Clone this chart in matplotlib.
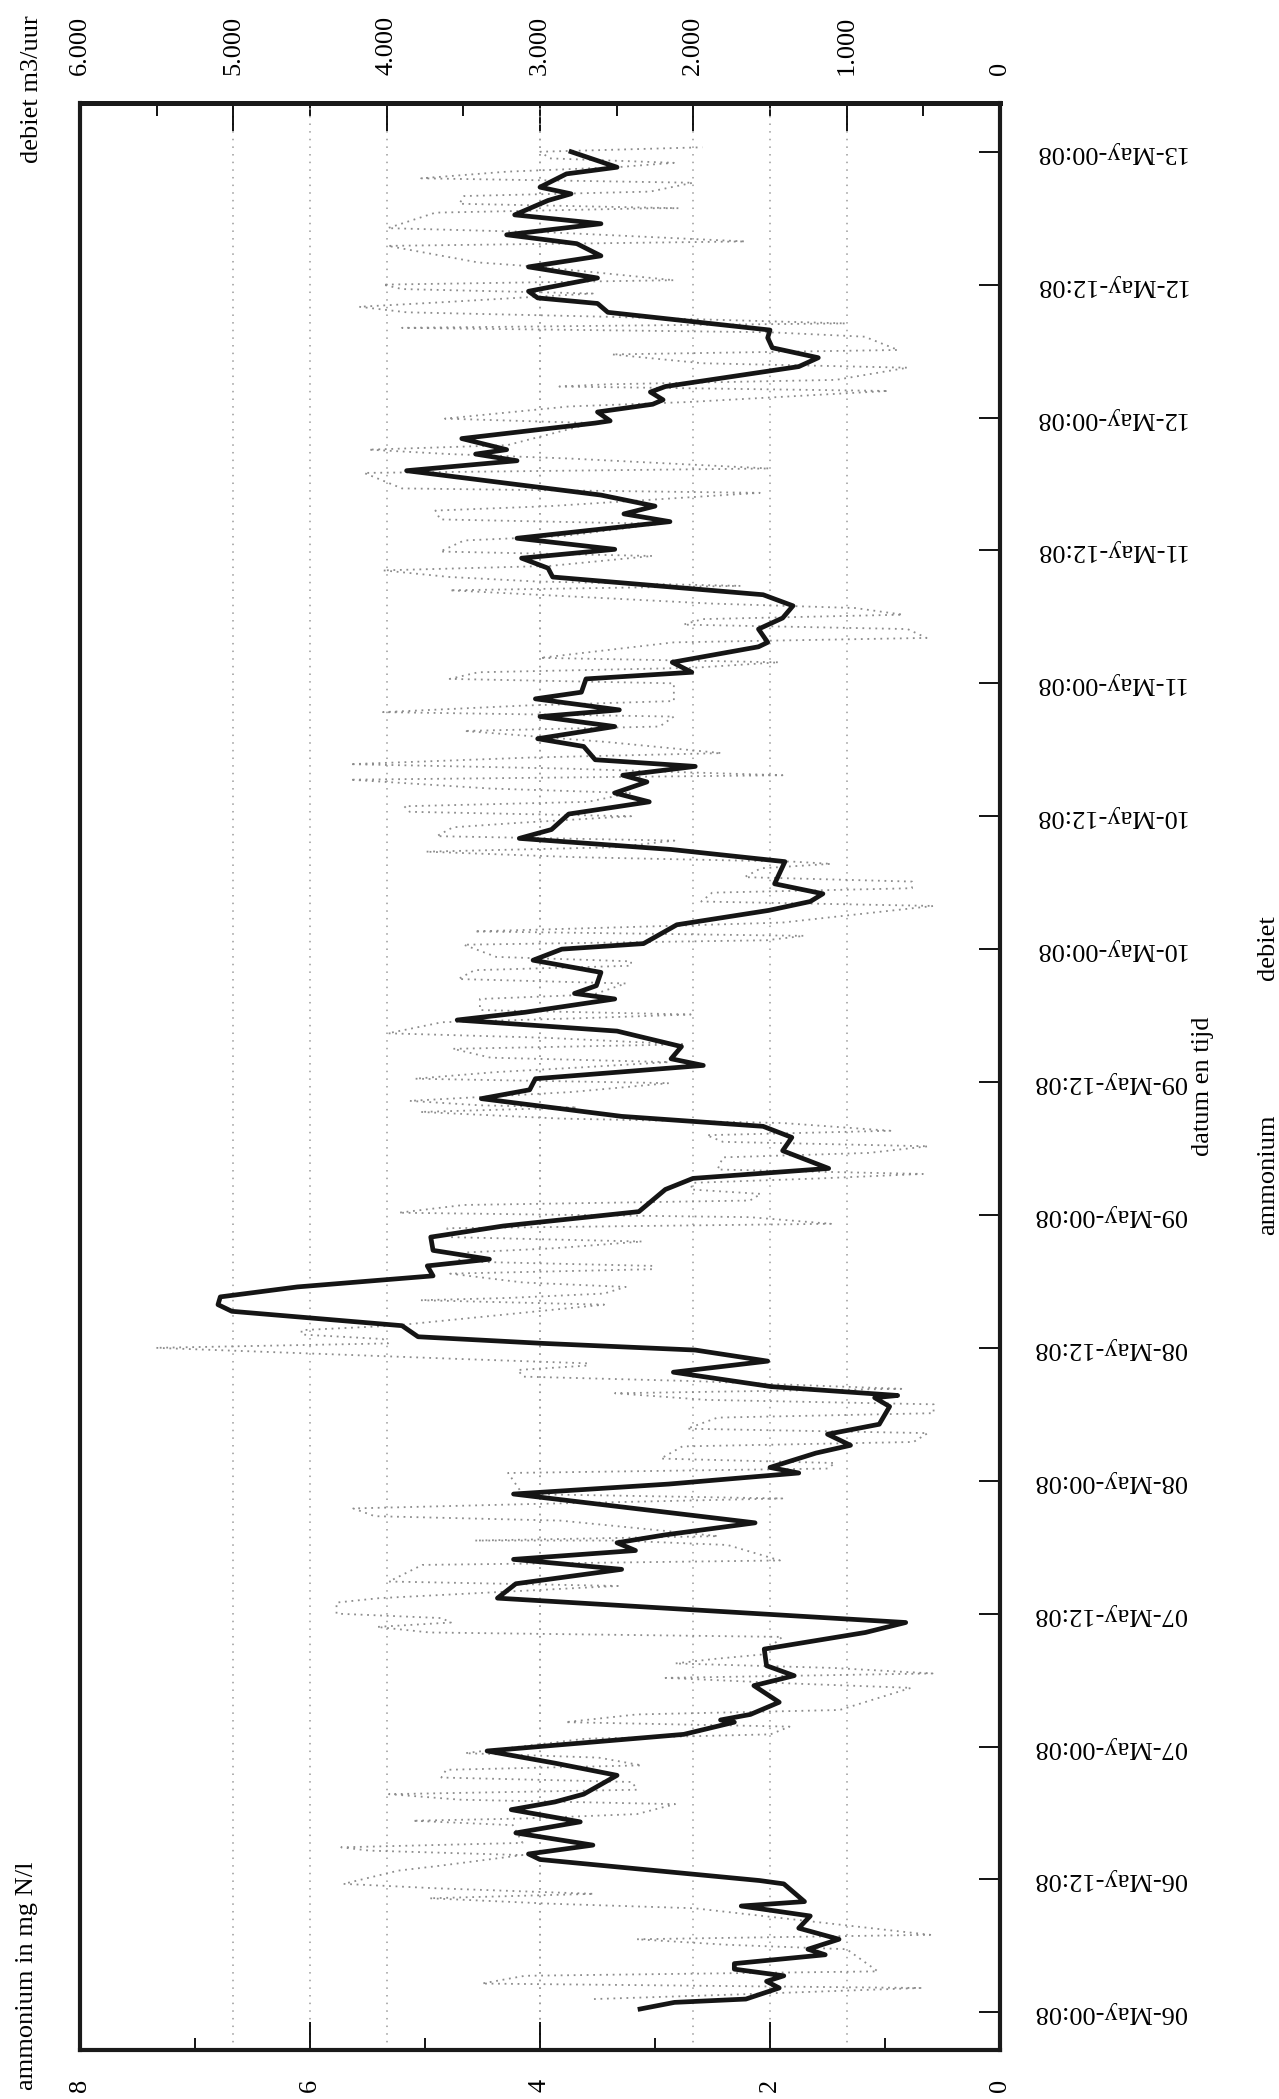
import matplotlib
matplotlib.use("Agg")
import matplotlib.pyplot as plt

plt.rcParams['font.family'] = ['Liberation Serif', 'DejaVu Serif']

# time axis: hours after 06-May 00:08
date_labels = ["06-May-00:08", "06-May-12:08", "07-May-00:08", "07-May-12:08",
               "08-May-00:08", "08-May-12:08", "09-May-00:08", "09-May-12:08",
               "10-May-00:08", "10-May-12:08", "11-May-00:08", "11-May-12:08",
               "12-May-00:08", "12-May-12:08", "13-May-00:08"]
date_hours = [0, 12, 24, 36, 48, 60, 72, 84, 96, 108, 120, 132, 144, 156, 168]

# ammonium (mg N/l), black line
amm_hours = [0.3, 0.9, 1.2, 2.2, 2.8, 3.3, 3.9, 4.4, 5.2, 5.7, 6.6, 7.6, 8.7, 9.6, 10.0,
             11.6, 11.9, 13.8, 14.3, 15.1, 16.2, 17.2, 18.3, 19.0, 19.7, 21.4, 22.5, 23.6,
             25.1, 26.2, 26.4, 26.9, 28.0, 29.5, 30.4, 31.3, 32.8, 34.3, 35.2, 37.4, 38.7,
             40.0, 40.9, 41.7, 42.4, 43.1, 44.2, 46.8, 47.7, 48.7, 49.2, 50.5, 51.2, 52.2,
             53.1, 54.7, 55.5, 55.7, 56.5, 57.8, 58.8, 59.8, 60.4, 61.0, 62.0, 63.3, 63.9,
             64.6, 65.5, 66.5, 67.4, 68.0, 68.8, 70.0, 71.0, 72.3, 74.3, 75.3, 76.2, 77.8,
             79.0, 80.0, 80.9, 82.5, 83.3, 84.3, 85.5, 86.1, 87.2, 88.6, 89.6, 90.3, 91.5,
             92.0, 92.7, 93.9, 95.0, 96.0, 96.5, 98.2, 99.5, 100.3, 101.0, 101.9, 103.9,
             105.0, 106.0, 106.8, 108.2, 109.3, 110.1, 111.1, 111.7, 112.5, 113.1, 114.3,
             115.0, 116.1, 117.0, 117.6, 118.6, 119.2, 120.4, 121.0, 121.9, 123.3, 123.7,
             124.9, 125.9, 127.0, 128.0, 129.6, 130.4, 131.3, 132.1, 133.1, 134.6, 135.3,
             136.0, 137.0, 139.2, 140.1, 140.7, 141.1, 142.1, 143.5, 143.7, 144.5, 145.2,
             145.6, 146.3, 146.8, 148.6, 149.4, 150.3, 151.2, 151.9, 153.5, 154.3, 154.8,
             155.4, 156.6, 157.6, 158.6, 159.7, 160.5, 161.5, 162.3, 163.6, 164.2, 164.8,
             166.0, 166.6, 168.0]
amm_values = [3.13, 2.83, 2.21, 1.92, 2.03, 1.88, 2.31, 2.31, 1.52, 1.67, 1.40, 1.75, 1.65,
              2.25, 1.70, 1.88, 2.09, 4.00, 4.10, 3.54, 4.21, 3.65, 4.25, 3.87, 3.62, 3.33,
              3.87, 4.46, 2.75, 2.31, 2.43, 2.17, 1.92, 2.14, 1.79, 2.03, 2.05, 1.17, 0.82,
              4.37, 4.21, 3.29, 4.23, 3.17, 3.33, 2.92, 2.13, 4.23, 2.88, 1.75, 2.00, 1.60,
              1.30, 1.50, 1.05, 0.96, 1.09, 0.89, 1.99, 2.84, 2.02, 2.65, 3.97, 5.06, 5.20,
              6.68, 6.80, 6.78, 6.11, 4.93, 4.98, 4.44, 4.93, 4.95, 4.32, 3.14, 2.91, 2.67,
              1.49, 1.89, 1.81, 2.06, 3.29, 4.51, 4.09, 4.04, 2.58, 2.86, 2.77, 3.33, 4.72,
              4.13, 3.35, 3.70, 3.51, 3.47, 4.06, 3.81, 3.10, 2.81, 2.01, 1.65, 1.54, 1.96,
              1.87, 2.86, 4.18, 3.90, 3.75, 3.05, 3.35, 3.07, 3.28, 2.65, 3.52, 3.62, 4.02,
              3.35, 4.00, 3.31, 4.04, 3.64, 3.60, 2.68, 2.85, 2.10, 2.02, 2.10, 1.89, 1.80,
              2.06, 3.89, 3.93, 4.16, 3.35, 4.20, 2.87, 3.27, 3.00, 3.47, 5.16, 4.20, 4.56,
              4.29, 4.68, 3.52, 3.39, 3.50, 3.02, 2.93, 3.04, 2.91, 1.75, 1.58, 1.98, 2.02,
              2.00, 3.41, 3.50, 4.02, 4.10, 3.50, 4.10, 3.47, 3.68, 4.29, 3.47, 4.22, 3.93,
              3.73, 4.00, 3.77, 3.33, 3.73]

# debiet (m3/uur), grey dotted line: per row the time, upper and lower value
grey_hours = [1.4, 2.4, 3.5, 5.9, 6.8, 9.6, 10.5, 11.4, 13.0, 14.4, 15.1, 17.1, 17.7, 19.0,
              19.9, 21.0, 22.1, 23.2, 24.9, 26.0, 27.1, 29.5, 30.4, 31.3, 32.1, 34.1, 35.0,
              35.8, 37.2, 38.7, 40.6, 42.4, 42.8, 44.6, 45.7, 46.6, 48.9, 49.8, 51.3, 52.5,
              53.9, 55.1, 56.1, 57.2, 58.2, 58.8, 60.2, 61.0, 61.8, 64.1, 64.7, 65.7, 66.9,
              67.6, 68.8, 69.8, 71.0, 72.0, 73.1, 74.1, 75.1, 75.9, 77.4, 78.4, 79.4, 80.5,
              81.5, 82.1, 82.9, 84.1, 85.1, 86.0, 87.2, 88.2, 89.6, 90.3, 91.7, 93.1, 94.3,
              95.1, 96.6, 97.4, 98.2, 100.1, 101.3, 102.3, 103.5, 104.1, 105.0, 106.0, 107.2,
              108.2, 109.1, 110.3, 111.5, 112.5, 113.5, 114.9, 115.9, 117.2, 118.2, 120.2,
              121.2, 122.1, 123.9, 125.1, 126.0, 127.0, 128.6, 129.4, 130.4, 131.7, 133.1,
              134.6, 135.8, 137.4, 139.2, 140.5, 141.3, 143.7, 145.2, 146.6, 147.2, 148.7,
              149.9, 151.5, 152.3, 153.3, 154.2, 155.4, 156.2, 157.8, 159.7, 160.9, 162.7,
              163.1, 164.2, 165.4, 166.4, 167.2, 168.2]
grey_high = [2648, 3379, 3099, 1777, 2368, 2912, 3721, 4281, 3923, 4110, 4296, 3830, 3114,
             3519, 3985, 3643, 3612, 3488, 2710, 2835, 2368, 1373, 2181, 2119, 1870, 3721,
             4063, 4327, 4327, 3985, 3768, 2492, 3425, 4078, 4218, 3114, 3208, 2212, 2072,
             2041, 1842, 1913, 2511, 3110, 3145, 3533, 5506, 4555, 4555, 3780, 3216, 3110,
             3586, 3533, 3498, 3604, 3604, 3921, 3498, 2018, 2003, 1842, 1807, 1807, 1913,
             2864, 3780, 3850, 3322, 3815, 3286, 3322, 3568, 3991, 3639, 3392, 3392, 3533,
             3427, 3286, 3498, 3427, 2406, 1948, 1877, 1666, 1560, 2758, 3745, 3674, 3568,
             3850, 3885, 3322, 4238, 4238, 3060, 2936, 3495, 4024, 3091, 3589, 3402, 2998,
             2127, 2065, 1940, 1878, 3589, 3589, 4024, 3651, 3495, 3651, 3682, 3900, 4148,
             3589, 4117, 3620, 2811, 2873, 2562, 1940, 2531, 1505, 3900, 3869, 4179, 3900,
             4024, 3402, 3993, 3993, 3682, 3526, 3495, 3775, 3216, 2936, 2998]
grey_low = [1746, 518, 797, 1000, 455, 1995, 2648, 3674, 3674, 3114, 3114, 3177, 2368, 2119,
            2368, 2399, 2337, 2617, 1497, 1373, 1046, 580, 440, 1093, 1559, 1420, 3581,
            3643, 4047, 2492, 1435, 1777, 1839, 2866, 3052, 1420, 1124, 1077, 564, 471,
            433, 433, 644, 2003, 2688, 2688, 3991, 4026, 3956, 2582, 2582, 2441, 2265, 2265,
            2899, 2335, 1102, 1631, 1631, 1560, 1173, 503, 856, 468, 715, 1419, 2758, 3392,
            2793, 2159, 2758, 2159, 2054, 2970, 2652, 2018, 2652, 2441, 2406, 2406, 1525,
            1278, 1419, 433, 574, 574, 1102, 1349, 2511, 2124, 3145, 2406, 2688, 2406, 1419,
            2828, 1816, 2562, 2220, 2127, 2127, 2127, 2003, 1443, 479, 603, 634, 945, 1692,
            3029, 2936, 2267, 2842, 2220, 2936, 1567, 1505, 2811, 3215, 2656, 2034, 728,
            1070, 603, 665, 883, 1008, 2562, 3651, 2656, 2127, 2998, 1661, 2905, 2251, 2096,
            2282, 2003, 2500, 2127, 1941]

amm_ticks = [0, 2, 4, 6, 8]
deb_ticks = [0, 1000, 2000, 3000, 4000, 5000, 6000]
deb_tick_labels = ["0", "1.000", "2.000", "3.000", "4.000", "5.000", "6.000"]

W, H = 1279, 2099
fig = plt.figure(figsize=(W / 100, H / 100), dpi=100)
fig.patch.set_facecolor('white')

# the page is turned a quarter: time runs upwards, ammonium along the bottom
ax = fig.add_axes([80 / W, 1 - 2050 / H, 920 / W, (2050 - 103) / H])
ax2 = ax.twiny()
ax.set_zorder(ax2.get_zorder() + 1)
ax.patch.set_visible(False)

# zigzag rows of the debiet series
gx, gy = [], []
for i, (h, hi, lo) in enumerate(zip(grey_hours, grey_high, grey_low)):
    a, b = (hi, lo) if i % 2 == 0 else (lo, hi)
    gy += [h - 0.2, h + 0.2]
    gx += [a, b]
ax2.plot(gx, gy, color='#8c8c8c', lw=1.3, linestyle=(0, (1, 2.6)))

ax.plot(amm_values, amm_hours, color='#151515', lw=3.4, solid_joinstyle='round')

ax.set_xlim(8, 0)
ax.set_ylim(-3.4, 172.4)
ax2.set_xlim(6000, 0)

grid_kw = dict(color='#9a9a9a', linestyle=(0, (1, 4)), linewidth=1.1)
ax.set_xticks(amm_ticks)
ax.set_xticks([1, 3, 5, 7], minor=True)
ax.set_xticklabels([str(t) for t in amm_ticks], rotation=90)
ax.xaxis.grid(True, which='major', **grid_kw)
ax.tick_params(axis='x', which='major', direction='in', length=20, width=1.3,
               pad=21, labelsize=19, bottom=True, top=False)
ax.tick_params(axis='x', which='minor', direction='in', length=9, width=1.3,
               bottom=True, top=False)

ax.yaxis.tick_right()
ax.set_yticks(date_hours)
ax.set_yticklabels(date_labels, rotation=180, va='center')
ax.tick_params(axis='y', which='major', direction='in', length=15, width=1.3,
               pad=24, labelsize=19, left=False, right=True)

ax2.set_xticks(deb_ticks)
ax2.set_xticks([500, 1500, 2500, 3500, 4500, 5500], minor=True)
ax2.set_xticklabels(deb_tick_labels, rotation=90)
ax2.xaxis.grid(True, which='major', **grid_kw)
ax2.tick_params(axis='x', which='major', direction='in', length=20, width=1.3,
                pad=20, labelsize=19)
ax2.tick_params(axis='x', which='minor', direction='in', length=9, width=1.3)

for s in ax2.spines.values():
    s.set_visible(False)
for name, s in ax.spines.items():
    s.set_linewidth(3.6 if name == 'top' else 3.0)
    s.set_color('#1a1a1a')

fig.text(27 / W, 1 - 2090 / H, "ammonium in mg N/l", rotation=90, ha='center',
         va='bottom', fontsize=19)
fig.text(32 / W, 1 - 163 / H, "debiet m3/uur", rotation=90, ha='center',
         va='bottom', fontsize=19)
fig.text(1203 / W, 1 - 1086 / H, "datum en tijd", rotation=90, ha='center',
         va='center', fontsize=19)
fig.text(1268 / W, 1 - 1175 / H, "ammonium", rotation=90, ha='center',
         va='center', fontsize=19)
fig.text(1268 / W, 1 - 948 / H, "debiet", rotation=90, ha='center',
         va='center', fontsize=19)
fig.text(5 / W, 1 - 1048 / H, "Ammonium en debiet effluent", rotation=90, ha='right',
         va='center', fontsize=17, fontweight='bold', family=['Liberation Sans', 'DejaVu Sans'])

fig.savefig("out.png", dpi=100, facecolor='white')
